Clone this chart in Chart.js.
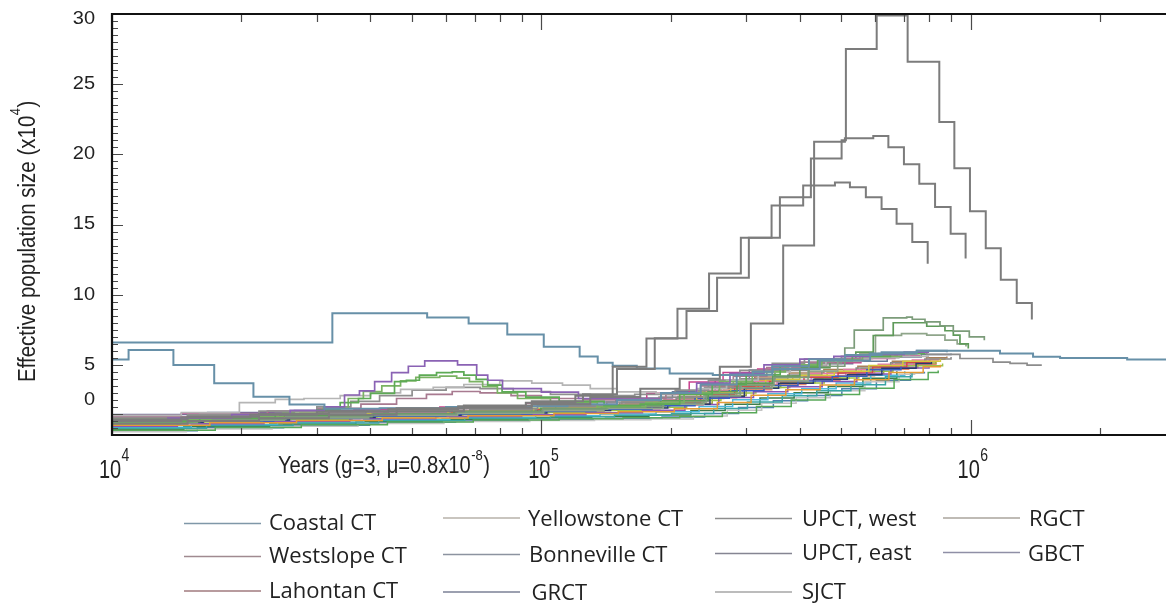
<!DOCTYPE html>
<html>
<head>
<meta charset="utf-8">
<title>PSMC – cutthroat trout</title>
<script src="https://cdn.jsdelivr.net/npm/chart.js@4.4.1/dist/chart.umd.min.js"></script>
<style>
  html, body { margin: 0; padding: 0; background: #fff; }
  #wrap { position: relative; width: 1166px; height: 603px; }
</style>
</head>
<body>
<div id="wrap"><canvas id="psmc"></canvas></div>
<script>
// each trajectory: [years, Ne (x10^4)] at the start of every PSMC step

// Coastal CT
const coastal1 = [[10000,6.6],[32600,8.68],[54200,8.37],[67700,7.94],[83300,7.16],[101300,6.28],[122800,5.6],[135300,5.14],[146600,4.93],[166800,4.74],[199000,4.39],[250800,4.27],[310800,4.5],[346000,4.7],[445000,5.3],[583000,5.8],[748000,6.0],[1170000,5.8],[1397000,5.57],[1615000,5.48],[2314000,5.38],[3000000,5.33]];
const coastal2 = [[10000,5.38],[10930,6.05],[13900,4.98],[17300,3.68],[21350,2.73],[25900,2.18],[31250,1.87],[42000,1.9],[60000,2.0],[85000,2.05],[115000,2.2],[150000,2.5],[190000,3.0],[235000,3.6],[285000,4.3],[345000,4.9],[420000,5.4],[510000,5.7],[620000,5.9],[750000,6.0],[880000,5.9]];

// the three large ancient peaks
const peak30 = [[10000,1.1],[15000,1.3],[22000,1.5],[32000,1.7],[46000,1.9],[66000,2.1],[95000,2.4],[125000,2.9],[150000,4.7],[183700,6.9],[217800,8.84],[256600,11.2],[304300,14.06],[359400,16.95],[424400,19.7],[500400,21.0],[512000,27.5],[604000,29.9],[713000,26.6],[845000,22.3],[916000,19.0],[996000,15.95],[1084000,13.3],[1175000,11.07],[1280000,9.41],[1388000,8.23]];
const peak21 = [[10000,0.8],[15000,1.0],[22000,1.2],[32000,1.45],[46000,1.7],[66000,1.95],[95000,2.2],[130000,2.7],[170000,3.3],[210000,4.0],[260400,4.87],[307600,7.94],[365800,13.5],[431800,20.9],[509300,21.15],[593000,21.3],[643000,20.5],[699000,19.3],[759000,17.9],[826000,16.24],[898000,14.34],[973000,12.57]];
const peak18 = [[10000,1.0],[14500,1.25],[21000,1.45],[30000,1.65],[44000,1.85],[64000,2.05],[92000,2.3],[120000,2.8],[146600,4.87],[175700,6.87],[207500,9.0],[245800,11.5],[291500,14.06],[343700,16.36],[407200,17.78],[482800,18.0],[523200,17.66],[569900,16.95],[620000,16.1],[672000,15.05],[731000,13.75],[794000,12.2]];

// late-Pleistocene bumps around 50 ky
const humpPurple = [[10000,1.05],[13500,1.2],[19000,1.45],[26000,1.75],[31200,2.0],[34800,2.85],[37700,3.15],[40900,3.8],[44800,4.45],[49000,4.9],[53500,5.28],[63800,5.0],[70700,4.27],[75000,3.9],[81200,3.3],[100000,3.05],[122000,2.6],[152000,2.55],[190000,3.0],[230000,3.7],[275000,4.4],[330000,5.0],[400000,5.4],[480000,5.6],[580000,5.75],[700000,5.9],[800000,5.9]];
const humpGreenA = [[10000,0.95],[16000,1.2],[24000,1.5],[30000,1.8],[34000,2.3],[37500,2.6],[40000,2.97],[45500,3.8],[48500,3.9],[52000,4.27],[57000,4.45],[62000,4.5],[66000,4.27],[70500,3.96],[75000,3.56],[81000,3.08],[92000,2.7],[110000,2.4],[140000,2.1],[170000,2.2],[210000,2.9],[250000,3.6],[300000,4.3],[360000,4.9],[440000,5.3],[530000,5.6],[650000,5.8],[780000,5.9]];
const humpGreenB = [[10000,1.1],[17000,1.3],[25000,1.55],[31000,1.9],[35500,2.6],[38500,3.1],[42500,3.5],[47000,3.85],[51000,4.1],[58000,4.2],[63500,4.05],[68000,3.8],[73000,3.45],[79000,3.0],[88000,2.6],[105000,2.3],[135000,2.0],[175000,2.3],[215000,3.0],[260000,3.8],[310000,4.5],[370000,5.0],[450000,5.35],[560000,5.6],[690000,5.75]];
const humpGrayA = [[10000,1.4],[14500,1.6],[19800,2.3],[24000,2.54],[28000,2.6],[34000,2.8],[40000,3.0],[47000,3.25],[56000,3.4],[66000,3.6],[80000,3.85],[95000,3.7],[112000,3.56],[130000,3.3],[150000,3.08],[185000,2.96],[230000,3.3],[270000,3.9],[320000,4.5],[380000,5.0],[460000,5.3],[560000,5.5],[680000,5.6],[800000,5.6]];
const humpGrayB = [[10000,1.2],[15000,1.45],[22000,1.7],[30000,2.0],[36000,2.4],[42000,2.8],[50000,3.2],[60000,3.4],[72000,3.3],[86000,3.1],[105000,2.9],[130000,2.8],[165000,2.9],[205000,3.2],[245000,3.9],[290000,4.6],[345000,5.1],[410000,5.4],[500000,5.6],[610000,5.8],[740000,5.85]];
const humpMauve = [[10000,1.3],[16000,1.5],[23000,1.7],[30000,1.9],[38000,2.2],[46000,2.6],[54000,2.9],[62000,3.1],[72000,3.0],[85000,2.8],[100000,2.6],[125000,2.5],[155000,2.6],[195000,2.9],[235000,3.5],[280000,4.2],[335000,4.8],[400000,5.2],[480000,5.45],[590000,5.6],[720000,5.7]];

// curves that rise a little above the bundle near 700 ky
const lateGreenA = [[10000,0.95],[15400,1.12],[25400,1.3],[40300,1.48],[63400,1.63],[100700,1.85],[142600,2.05],[192600,2.35],[242000,2.95],[290000,3.55],[348000,4.1],[420000,4.9],[509000,6.2],[535500,7.47],[625600,8.34],[709400,8.4],[731000,8.25],[782600,8.06],[848100,7.77],[910800,7.4],[992400,6.99],[1075700,6.76]];
const lateGreenB = [[10000,1.02],[16100,1.18],[24600,1.36],[40600,1.5],[62600,1.69],[99600,1.9],[141600,2.12],[189600,2.45],[244600,3.1],[285600,3.7],[346000,4.2],[400000,4.8],[470000,5.35],[540000,5.9],[593000,7.09],[660000,8.0],[790000,7.75],[871000,7.43],[911000,7.11],[944000,6.5],[987000,6.17]];
const lateGreenC = [[10000,0.88],[15800,1.05],[25200,1.22],[39600,1.4],[63800,1.55],[101200,1.74],[139800,1.9],[192200,2.2],[239000,2.78],[290800,3.35],[345000,3.85],[418000,4.55],[490000,5.25],[552000,5.8],[600000,7.1],[690000,7.23],[790000,7.11],[871000,6.76],[930000,6.5],[975000,6.3]];
const lateGray = [[10000,1.2],[15000,1.38],[24000,1.55],[39000,1.7],[62000,1.88],[98000,2.1],[142000,2.35],[188000,2.7],[240000,3.4],[292000,4.0],[350000,4.6],[420000,5.1],[500000,5.45],[580000,5.7],[680000,5.85],[790000,5.75],[944000,5.45],[1127000,5.2],[1235000,5.1],[1353000,4.98],[1464000,4.98]];

// main bundle of inland samples
const bMagenta = [[10000,1.39],[14500,1.53],[23100,1.68],[36600,1.82],[58000,1.99],[92000,2.28],[130000,2.54],[176000,2.97],[221000,3.77],[265000,4.46],[319000,4.71],[384000,4.94],[461000,5.14],[555000,5.45],[666000,5.66],[760000,5.7]];
const bOrange = [[10000,0.69],[16900,0.87],[26900,1.04],[42600,1.22],[67500,1.38],[107000,1.53],[151000,1.66],[204000,1.87],[257000,2.32],[308000,2.84],[371000,3.23],[446000,3.56],[536000,3.94],[645000,4.45],[775000,4.86],[850000,5.0]];
const bYellow = [[10000,1.04],[15200,1.2],[24100,1.36],[38200,1.52],[60600,1.68],[96000,1.9],[135000,2.1],[183000,2.42],[230000,3.04],[276000,3.65],[333000,3.97],[400000,4.25],[481000,4.54],[579000,4.95],[695000,5.26],[850000,5.4]];
const bGreen = [[10000,0.34],[17400,0.53],[27600,0.73],[43800,0.92],[69400,1.07],[110000,1.15],[155000,1.23],[210000,1.32],[264000,1.59],[317000,2.03],[382000,2.5],[459000,2.88],[551000,3.34],[663000,3.95],[796000,4.46],[840000,4.6]];
const bBlue = [[10000,0.83],[15000,1.0],[23800,1.17],[37800,1.34],[59900,1.5],[95000,1.68],[134000,1.84],[181000,2.09],[228000,2.61],[274000,3.16],[330000,3.53],[396000,3.84],[476000,4.18],[573000,4.65],[688000,4.9]];
const bNavy = [[10000,0.9],[16300,1.07],[25900,1.24],[41000,1.4],[65000,1.56],[103000,1.75],[145000,1.93],[197000,2.2],[247000,2.75],[297000,3.33],[357000,3.68],[430000,3.98],[516000,4.3],[621000,4.75],[746000,5.1],[810000,5.2]];
const bPurple = [[10000,0.62],[14200,0.8],[22600,0.98],[35800,1.16],[56800,1.32],[90000,1.45],[127000,1.58],[172000,1.76],[216000,2.17],[259000,2.68],[312000,3.09],[375000,3.43],[451000,3.82],[543000,4.35],[652000,4.78],[800000,4.9]];
const bTeal = [[10000,0.48],[16600,0.67],[26400,0.85],[41800,1.04],[66300,1.19],[105000,1.3],[148000,1.4],[201000,1.54],[252000,1.88],[302000,2.35],[364000,2.79],[438000,3.15],[526000,3.58],[633000,4.15],[730000,4.4]];
const bRed = [[10000,0.97],[15500,1.13],[24600,1.3],[39000,1.46],[61800,1.62],[98000,1.83],[138000,2.01],[187000,2.31],[235000,2.9],[282000,3.49],[340000,3.82],[409000,4.11],[491000,4.42],[591000,4.85],[710000,5.18],[800000,5.3]];
const bGray = [[10000,1.18],[17100,1.33],[27100,1.49],[43000,1.64],[68100,1.8],[108000,2.05],[152000,2.28],[206000,2.64],[259000,3.33],[311000,3.98],[375000,4.27],[450000,4.53],[541000,4.78],[651000,5.15],[782000,5.42],[900000,5.55]];
const bLightGray = [[10000,0.23],[14900,0.43],[23600,0.63],[37400,0.82],[59300,0.97],[94000,1.03],[133000,1.09],[180000,1.14],[226000,1.36],[271000,1.77],[326000,2.26],[392000,2.66],[471000,3.15],[567000,3.79],[681000,4.33],[740000,4.4]];
const bPink = [[10000,1.11],[16000,1.26],[25400,1.43],[40200,1.58],[63700,1.74],[101000,1.98],[142000,2.19],[193000,2.53],[242000,3.19],[291000,3.81],[350000,4.12],[421000,4.39],[506000,4.66],[609000,5.05],[731000,5.34],[840000,5.45]];
const bLime = [[10000,0.76],[14400,0.93],[22800,1.11],[36200,1.28],[57400,1.44],[91000,1.6],[128000,1.75],[174000,1.98],[218000,2.46],[262000,3.0],[316000,3.38],[379000,3.7],[456000,4.06],[549000,4.55],[659000,4.94],[860000,5.1]];
const bBrown = [[10000,1.25],[17200,1.4],[27400,1.55],[43400,1.7],[68800,1.87],[109000,2.13],[154000,2.36],[208000,2.75],[262000,3.48],[314000,4.14],[378000,4.41],[455000,4.66],[546000,4.9],[657000,5.25],[789000,5.5],[880000,5.6]];
const bCyan = [[10000,0.55],[15300,0.73],[24300,0.92],[38600,1.1],[61200,1.26],[97000,1.38],[137000,1.49],[185000,1.65],[233000,2.03],[279000,2.51],[337000,2.94],[404000,3.29],[486000,3.7],[585000,4.25],[702000,4.55]];
const bOlive = [[10000,0.93],[16400,1.09],[26100,1.26],[41400,1.42],[65600,1.58],[104000,1.78],[147000,1.96],[199000,2.24],[250000,2.81],[300000,3.39],[361000,3.73],[434000,4.03],[521000,4.35],[627000,4.79],[753000,5.13],[830000,5.25]];
const bDarkGreen = [[10000,0.41],[14700,0.6],[23300,0.79],[37000,0.98],[58700,1.13],[93000,1.23],[131000,1.31],[178000,1.43],[223000,1.74],[268000,2.19],[323000,2.64],[388000,3.01],[466000,3.46],[561000,4.05],[673000,4.54]];
const bSlate = [[10000,1.46],[16700,1.6],[26600,1.74],[42200,1.88],[66900,2.05],[106000,2.35],[149000,2.63],[202000,3.08],[254000,3.91],[305000,4.63],[368000,4.86],[442000,5.08],[531000,5.26],[639000,5.55],[767000,5.74],[900000,5.8]];
const bSalmon = [[10000,0.86],[15600,1.03],[24800,1.2],[39400,1.36],[62500,1.52],[99000,1.71],[140000,1.87],[189000,2.13],[238000,2.66],[285000,3.23],[344000,3.59],[413000,3.89],[496000,4.23],[597000,4.69],[717000,5.05],[830000,5.15]];
const bViolet = [[10000,1.01],[16100,1.17],[25600,1.34],[40600,1.5],[64400,1.66],[102000,1.87],[144000,2.07],[195000,2.38],[245000,2.98],[294000,3.59],[354000,3.91],[425000,4.2],[511000,4.49],[615000,4.91],[738000,5.1]];
const bSteel = [[10000,0.31],[15800,0.51],[25100,0.7],[39800,0.9],[63100,1.05],[100000,1.12],[141000,1.19],[191000,1.28],[240000,1.53],[288000,1.96],[347000,2.44],[417000,2.82],[501000,3.29],[603000,3.91],[724000,4.43],[780000,4.5]];
const bGold = [[10000,1.15],[17500,1.3],[27900,1.46],[44200,1.62],[70000,1.78],[111000,2.02],[157000,2.24],[212000,2.6],[266000,3.27],[320000,3.91],[385000,4.21],[463000,4.47],[556000,4.73],[669000,5.11],[804000,5.39],[870000,5.5]];

// axes
const xTickValues = [1e4, 1e5, 1e6];
const xTickExponents = ['4', '5', '6'];
const yTickValues = [30, 25, 20, 15, 10, 5, 2.5];
const yTickLabels = ['30', '25', '20', '15', '10', '5', '0'];
const yLongTicks = [30, 25, 20, 15, 10, 5, 1.5];

// legend
const legendNames = ['Coastal CT', 'Westslope CT', 'Lahontan CT', 'Yellowstone CT', 'Bonneville CT', 'GRCT',
                     'UPCT, west', 'UPCT, east', 'SJCT', 'RGCT', 'GBCT'];
const legendColors = ['#7f97a8', '#a08a90', '#a07a7e', '#b7b2aa', '#8c93a0', '#7b8196',
                      '#8e8e8e', '#858592', '#a6a6a6', '#aaa49c', '#8f8fa6'];
// [line start x, line y, text x, text baseline]
const legendSlots = [
  [184, 523.5, 269, 530], [184, 556.5, 269, 563], [184, 591, 269, 598],
  [443, 518, 528, 525.5], [443, 554.5, 529, 561.5], [443, 592, 531.5, 600],
  [715, 518.5, 802, 525.5], [715, 553.5, 802, 560], [715, 592, 802, 599],
  [943, 518, 1029, 525.5], [943, 552.5, 1028, 561]
];

// first entries are drawn on top
const series = [
  { name: 'UPCT, west', data: peak30, color: '#7c7c7c', width: 2 },
  { name: 'UPCT, west', data: peak21, color: '#7c7c7c', width: 2 },
  { name: 'UPCT, east', data: peak18, color: '#7c7c7c', width: 2 },
  { name: 'Coastal CT', data: coastal1, color: '#6790a8', width: 2 },
  { name: 'Coastal CT', data: coastal2, color: '#6790a8', width: 2 },
  { name: 'Yellowstone CT', data: humpPurple, color: '#8a62b4', width: 1.7 },
  { name: 'Yellowstone CT', data: humpGreenA, color: '#5daa55', width: 1.7 },
  { name: 'Yellowstone CT', data: humpGreenB, color: '#7ab262', width: 1.7 },
  { name: 'Yellowstone CT', data: humpGrayA, color: '#b5b5b5', width: 1.7 },
  { name: 'Yellowstone CT', data: humpGrayB, color: '#8f8f8f', width: 1.7 },
  { name: 'Westslope CT', data: humpMauve, color: '#a87a90', width: 1.7 },
  { name: 'SJCT', data: lateGreenA, color: '#7c9c7a', width: 1.7 },
  { name: 'SJCT', data: lateGreenB, color: '#5f9a5a', width: 1.7 },
  { name: 'RGCT', data: lateGreenC, color: '#8fa58a', width: 1.7 },
  { name: 'GBCT', data: lateGray, color: '#8c8c8c', width: 1.7 },
  { name: 'Westslope CT', data: bMagenta, color: '#c8418e', width: 1.5 },
  { name: 'Lahontan CT', data: bOrange, color: '#e59b35', width: 1.5 },
  { name: 'Bonneville CT', data: bYellow, color: '#d3c83c', width: 1.5 },
  { name: 'Bonneville CT', data: bGreen, color: '#58a858', width: 1.5 },
  { name: 'GRCT', data: bBlue, color: '#3a5fbf', width: 1.5 },
  { name: 'GRCT', data: bNavy, color: '#2a3a70', width: 1.5 },
  { name: 'GBCT', data: bPurple, color: '#8b55b5', width: 1.5 },
  { name: 'RGCT', data: bTeal, color: '#3aa5a5', width: 1.5 },
  { name: 'Lahontan CT', data: bRed, color: '#d24848', width: 1.5 },
  { name: 'Westslope CT', data: bGray, color: '#8a8a8a', width: 1.5 },
  { name: 'Yellowstone CT', data: bLightGray, color: '#c4c4c4', width: 1.5 },
  { name: 'Westslope CT', data: bPink, color: '#e27aa8', width: 1.5 },
  { name: 'Bonneville CT', data: bLime, color: '#9cc24a', width: 1.5 },
  { name: 'Lahontan CT', data: bBrown, color: '#a8805a', width: 1.5 },
  { name: 'RGCT', data: bCyan, color: '#4db8dc', width: 1.5 },
  { name: 'SJCT', data: bOlive, color: '#a0a040', width: 1.5 },
  { name: 'GRCT', data: bDarkGreen, color: '#3c7c4c', width: 1.5 },
  { name: 'UPCT, east', data: bSlate, color: '#6a7a9a', width: 1.5 },
  { name: 'Lahontan CT', data: bSalmon, color: '#e08870', width: 1.5 },
  { name: 'GBCT', data: bViolet, color: '#b080d0', width: 1.5 },
  { name: 'Coastal CT', data: bSteel, color: '#5080b0', width: 1.5 },
  { name: 'Bonneville CT', data: bGold, color: '#e0b030', width: 1.5 }
];

const SANS = '"Liberation Sans", Arial, sans-serif';

// base text + raised superscript + tail, drawn from the current origin
function textWithSup(ctx, base, sup, tail, size, supSize, rise) {
  ctx.font = size + 'px ' + SANS;
  ctx.fillText(base, 0, 0);
  let x = ctx.measureText(base).width + 0.5;
  ctx.font = supSize + 'px ' + SANS;
  ctx.fillText(sup, x, rise);
  x += ctx.measureText(sup).width + 0.5;
  if (tail) {
    ctx.font = size + 'px ' + SANS;
    ctx.fillText(tail, x, 0);
  }
}

const frameAndText = {
  id: 'frameAndText',
  afterDatasetsDraw(chart) {
    const { ctx, chartArea: a } = chart;
    const xs = chart.scales.x, ys = chart.scales.y;
    ctx.save();

    // inward tick marks
    ctx.strokeStyle = '#4a4a4a';
    ctx.lineWidth = 1.2;
    ctx.beginPath();
    for (let v = 0; v <= 30; v += 0.5) {
      const py = Math.round(ys.getPixelForValue(v)) + 0.5;
      const len = yLongTicks.includes(v) ? 11 : 6;
      ctx.moveTo(a.left, py);
      ctx.lineTo(a.left + len, py);
    }
    for (let d = 1e4; d <= xs.max; d *= 10) {
      for (let m = 1; m <= 9; m++) {
        const v = d * m;
        if (v > xs.max) break;
        const px = Math.round(xs.getPixelForValue(v)) + 0.5;
        ctx.moveTo(px, a.bottom);
        ctx.lineTo(px, a.bottom - (m === 1 ? 15 : 7));
        ctx.moveTo(px, a.top);
        ctx.lineTo(px, a.top + (m === 1 ? 16 : 8));
      }
    }
    ctx.stroke();

    // open box: top, left, bottom
    ctx.strokeStyle = '#111';
    ctx.lineWidth = 2.2;
    ctx.beginPath();
    ctx.moveTo(a.right, a.top);
    ctx.lineTo(a.left, a.top);
    ctx.lineTo(a.left, a.bottom);
    ctx.lineTo(a.right, a.bottom);
    ctx.stroke();

    ctx.fillStyle = '#222';

    // y tick labels
    ctx.font = '20px ' + SANS;
    ctx.textAlign = 'right';
    ctx.textBaseline = 'middle';
    yTickValues.forEach((v, i) => {
      const py = Math.max(ys.getPixelForValue(v), a.top + 5);
      ctx.save();
      ctx.translate(a.left - 17, py);
      ctx.scale(1, 0.88);
      ctx.fillText(yTickLabels[i], 0, 0);
      ctx.restore();
    });

    // x tick labels 10^n
    ctx.textAlign = 'left';
    ctx.textBaseline = 'alphabetic';
    xTickValues.forEach((v, i) => {
      const px = xs.getPixelForValue(v) - 2;
      ctx.save();
      ctx.translate(px, 478);
      ctx.scale(1, 1.28);
      ctx.font = '20px ' + SANS;
      const w = ctx.measureText('10').width;
      ctx.fillText('10', -w / 2, 0);
      ctx.font = '14px ' + SANS;
      ctx.fillText(xTickExponents[i], w / 2 + 0.5, -13);
      ctx.restore();
    });

    // x title
    ctx.save();
    ctx.translate(278, 473.3);
    ctx.scale(1, 1.15);
    textWithSup(ctx, 'Years (g=3, \u03bc=0.8x10', '-8', ')', 20.2, 13, -11.6);
    ctx.restore();

    // y title
    ctx.save();
    ctx.translate(35, 382);
    ctx.rotate(-Math.PI / 2);
    ctx.scale(1, 1.13);
    textWithSup(ctx, 'Effective population size (x10', '4', ')', 20.5, 13, -13);
    ctx.restore();

    // legend
    ctx.font = '22px "Open Sans", sans-serif';
    ctx.lineWidth = 1.5;
    legendNames.forEach((name, i) => {
      const [lx, ly, tx, tb] = legendSlots[i];
      ctx.strokeStyle = legendColors[i];
      ctx.beginPath();
      ctx.moveTo(lx, ly);
      ctx.lineTo(lx + 77, ly);
      ctx.stroke();
      ctx.fillText(name, tx, tb);
    });

    ctx.restore();
  }
};

new Chart(document.getElementById('psmc'), {
  type: 'line',
  data: {
    datasets: series.map(s => ({
      label: s.name,
      data: s.data.map(([t, n]) => ({ x: t, y: n })),
      borderColor: s.color,
      borderWidth: s.width,
      stepped: 'before',
      pointRadius: 0,
      fill: false
    }))
  },
  options: {
    responsive: true,
    maintainAspectRatio: false,
    animation: false,
    events: [],
    layout: { padding: { left: 112, top: 14, right: 0, bottom: 168 } },
    plugins: { legend: { display: false }, tooltip: { enabled: false } },
    scales: {
      x: { type: 'logarithmic', min: 1e4, max: 2.85e6, display: false },
      y: { type: 'linear', min: 0, max: 30, display: false }
    }
  },
  plugins: [frameAndText]
});
</script>
</body>
</html>
